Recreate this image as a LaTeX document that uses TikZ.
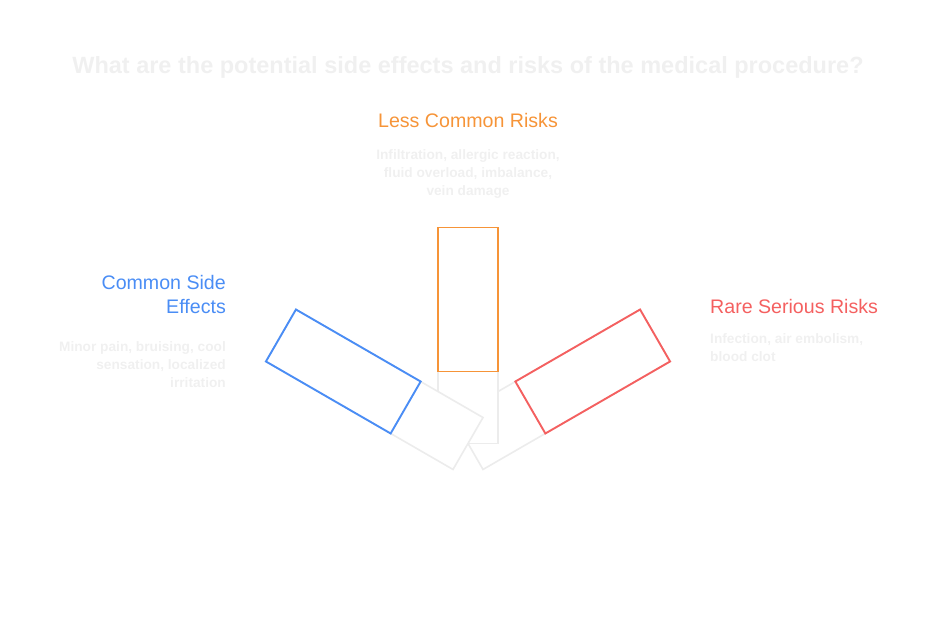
\documentclass[tikz,border=0pt]{standalone}
\usepackage{fontspec}
\setmainfont{Liberation Sans}
\usetikzlibrary{calc}

\definecolor{commonblue}{RGB}{74,141,245}
\definecolor{lessorange}{RGB}{246,148,56}
\definecolor{rarered}{RGB}{244,96,96}
\definecolor{faintgray}{RGB}{240,240,240}
\definecolor{basegray}{RGB}{236,236,236}

\newcommand*{\barlen}{216}
\newcommand*{\barthick}{60}

\begin{document}
\begin{tikzpicture}
[
	x=1pt,
	y=1pt,
	barbase/.style={draw=basegray,fill=white,line width=1.6pt,inner sep=0pt,
		minimum width=\barlen pt,minimum height=\barthick pt},
	barpart/.style={draw=#1,fill=white,line width=1.9pt,inner sep=0pt,
		minimum width=144pt,minimum height=\barthick pt},
	heading/.style={text=#1,font=\fontsize{19.6}{24}\selectfont,inner sep=0pt},
	desc/.style={text=faintgray,font=\fontsize{13.7}{18}\selectfont\bfseries,inner sep=0pt}
]

	\useasboundingbox (0,0) rectangle (936,624);

	% title
	\node[text=faintgray,font=\fontsize{23.5}{28}\selectfont\bfseries] (title) at (468,557)
		{What are the potential side effects and risks of the medical procedure?};

	% fan of bars, turning about the pivot
	\coordinate (pivot) at (468,180.5);

	\node[barbase,rotate=30] (rarebase) at ($(pivot)+(30:108)$) {};
	\node[barpart=rarered,rotate=30] (rarebar) at ($(pivot)+(30:144)$) {};

	\node[barbase,rotate=90] (lessbase) at ($(pivot)+(90:108)$) {};
	\node[barpart=lessorange,rotate=90] (lessbar) at ($(pivot)+(90:144)$) {};

	\node[barbase,rotate=150] (commonbase) at ($(pivot)+(150:108)$) {};
	\node[barpart=commonblue,rotate=150] (commonbar) at ($(pivot)+(150:144)$) {};

	% labels
	\node[heading=lessorange] (lesshead) at (468,504) {Less Common Risks};
	\node[desc,align=center] (lessdesc) at (468,450)
		{Infiltration, allergic reaction,\\ fluid overload, imbalance,\\ vein damage};

	\node[heading=commonblue,anchor=east,align=right] (commonhead) at (226,330)
		{Common Side\\ Effects};
	\node[desc,anchor=east,align=right] (commondesc) at (226,259)
		{Minor pain, bruising, cool\\ sensation, localized\\ irritation};

	\node[heading=rarered,anchor=west] (rarehead) at (710,318) {Rare Serious Risks};
	\node[desc,anchor=west,align=left] (raredesc) at (710,276)
		{Infection, air embolism,\\ blood clot};

\end{tikzpicture}
\end{document}
